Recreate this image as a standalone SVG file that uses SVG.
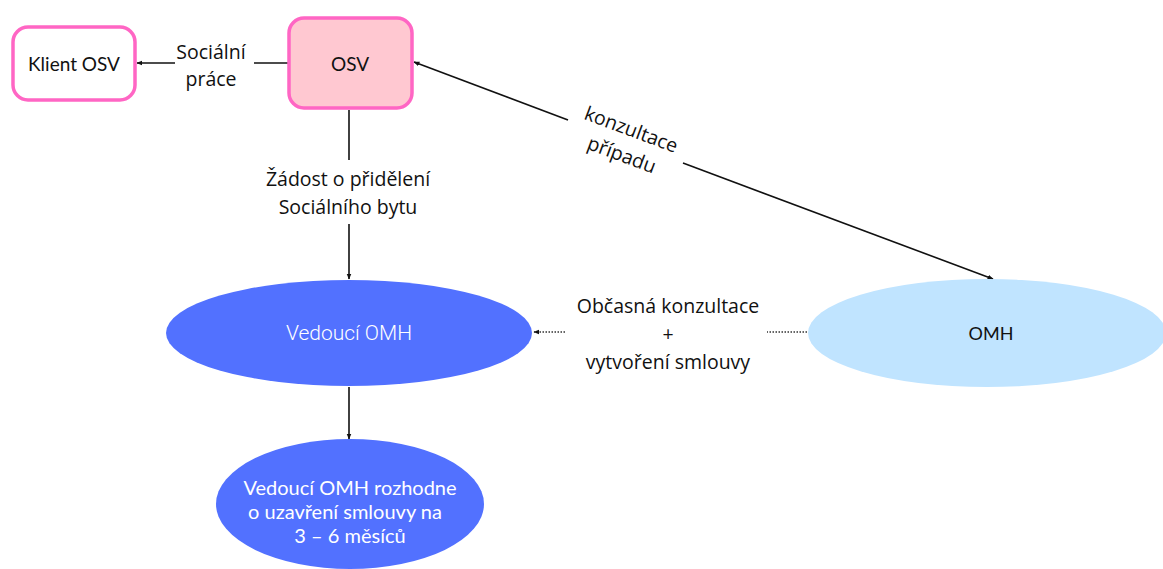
<svg xmlns="http://www.w3.org/2000/svg" width="1163" height="569" viewBox="0 0 1163 569">
  <style>
    .box { stroke: #ff66c4; stroke-width: 3.5; }
    .node-text { font-family: "Lato", "Liberation Sans", sans-serif; font-size: 19px; text-anchor: middle; dominant-baseline: central; }
    .label { font-family: "Open Sans", "Liberation Sans", sans-serif; font-size: 19.5px; fill: #111; text-anchor: middle; dominant-baseline: central; }
    .line { stroke: #111; stroke-width: 1.6; fill: none; }
    .dotted { stroke: #333; stroke-width: 1.4; fill: none; stroke-dasharray: 1.5 1.5; }
  </style>
  <defs>
    <marker id="arrow" viewBox="0 0 10 10" refX="9" refY="5" markerWidth="6" markerHeight="6" orient="auto-start-reverse" markerUnits="userSpaceOnUse">
      <path d="M0,1 L10,5 L0,9 z" fill="#111"/>
    </marker>
  </defs>
  <rect width="1163" height="569" fill="#ffffff"/>

  <g id="connectors">
    <!-- OSV -> Klient OSV -->
    <line class="line" x1="288" y1="63" x2="254" y2="63"/>
    <line class="line" x1="175" y1="63" x2="137" y2="63" marker-end="url(#arrow)"/>
    <text class="label" x="211" y="51">Sociální</text>
    <text class="label" x="211" y="78">práce</text>

    <!-- OSV <-> OMH -->
    <line class="line" x1="568" y1="120" x2="414" y2="62" marker-end="url(#arrow)"/>
    <line class="line" x1="683" y1="163" x2="993" y2="279" marker-end="url(#arrow)"/>
    <g transform="translate(627,141) rotate(20.5)">
      <text class="label" x="0" y="-13">konzultace</text>
      <text class="label" x="0" y="14">případu</text>
    </g>

    <!-- OSV -> Vedoucí OMH -->
    <line class="line" x1="349" y1="110" x2="349" y2="160"/>
    <line class="line" x1="349" y1="224" x2="349" y2="279" marker-end="url(#arrow)"/>
    <text class="label" x="348" y="178">Žádost o přidělení</text>
    <text class="label" x="348" y="206">Sociálního bytu</text>

    <!-- OMH -> Vedoucí OMH -->
    <line class="dotted" x1="807" y1="332" x2="767" y2="332"/>
    <line class="dotted" x1="565" y1="332" x2="534" y2="332" marker-end="url(#arrow)"/>
    <text class="label" x="668" y="305">Občasná konzultace</text>
    <text class="label" x="668" y="333">+</text>
    <text class="label" x="668" y="361">vytvoření smlouvy</text>

    <!-- Vedoucí OMH -> decision -->
    <line class="line" x1="349" y1="387" x2="349" y2="439" marker-end="url(#arrow)"/>
  </g>

  <g id="klient-osv">
    <rect class="box" x="13" y="27" width="122" height="73" rx="15" fill="#ffffff"/>
    <text class="node-text" x="74" y="63" fill="#111">Klient OSV</text>
  </g>

  <g id="osv">
    <rect class="box" x="289" y="18" width="123" height="90" rx="15" fill="#ffc8d1"/>
    <text class="node-text" x="350" y="63" fill="#111">OSV</text>
  </g>

  <g id="vedouci-omh">
    <ellipse cx="349" cy="333" rx="183" ry="53" fill="#5271ff"/>
    <text class="node-text" x="349" y="333" fill="#ffffff" style="font-family: 'Roboto', 'Liberation Sans', sans-serif; font-weight: 300; font-size: 21px;">Vedoucí OMH</text>
  </g>

  <g id="omh">
    <ellipse cx="987" cy="333" rx="179" ry="54" fill="#c0e4ff"/>
    <text class="node-text" x="991" y="333" fill="#111" style="font-size: 18px;">OMH</text>
  </g>

  <g id="rozhodnuti">
    <ellipse cx="350" cy="504" rx="134" ry="65" fill="#5271ff"/>
    <text class="node-text" x="350" y="487" fill="#ffffff" style="font-size: 20px;">Vedoucí OMH rozhodne</text>
    <text class="node-text" x="345" y="511" fill="#ffffff" style="font-size: 20px;">o uzavření smlouvy na</text>
    <text class="node-text" x="350" y="535" fill="#ffffff" style="font-size: 20px;">3 – 6 měsíců</text>
  </g>
</svg>
